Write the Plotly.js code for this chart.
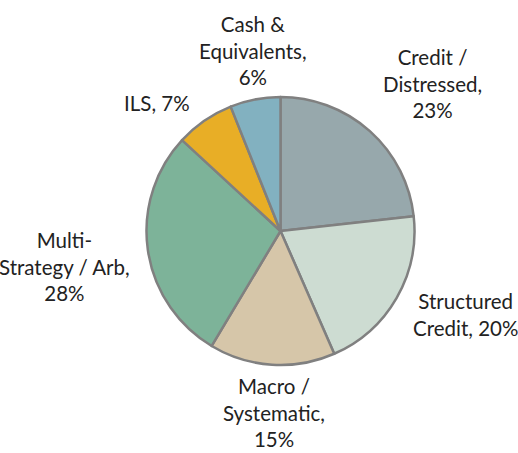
<!DOCTYPE html>
<html>
<head>
<meta charset="utf-8">
<script src="https://cdn.plot.ly/plotly-3.0.1.min.js"></script>
<style>html,body{margin:0;padding:0;background:#fff;}#chart{width:518px;height:453px;}</style>
</head>
<body>
<div id="chart"></div>
<script>
var categories = ["Credit / Distressed", "Structured Credit", "Macro / Systematic", "Multi-Strategy / Arb", "ILS", "Cash & Equivalents"];
var values = [23, 20, 15, 28, 7, 6];
var labelTexts = ["Credit /<br>Distressed,<br>23%", "Structured<br>Credit, 20%", "Macro /<br>Systematic,<br>15%", "Multi-<br>Strategy / Arb,<br>28%", "ILS, 7%", "Cash &<br>Equivalents,<br>6%"];
var colors = ["#97a8ac", "#cddcd2", "#d6c6a9", "#7db399", "#e8ae26", "#82b1c0"];

var W = 518, H = 453;
// label centres in pixels (layout only)
var labelPos = [[432, 83], [465, 314], [274, 412], [64, 266], [157, 103], [253, 50]];

var annotations = labelTexts.map(function (t, i) {
  return {
    text: t, xref: 'paper', yref: 'paper',
    x: labelPos[i][0] / W, y: 1 - labelPos[i][1] / H,
    xanchor: 'center', yanchor: 'middle', align: 'center', showarrow: false,
    font: {family: 'Lato, sans-serif', size: 20.5, color: '#222'}
  };
});

var cx = 280.5, cy = 231, r = 134;
var trace = {
  type: 'pie', labels: categories, values: values, sort: false, direction: 'clockwise', rotation: 0,
  textinfo: 'none', hoverinfo: 'label+percent',
  marker: {colors: colors, line: {color: '#808080', width: 2.5}},
  domain: {x: [(cx - r) / W, (cx + r) / W], y: [1 - (cy + r) / H, 1 - (cy - r) / H]}
};

Plotly.newPlot('chart', [trace], {
  width: W, height: H, margin: {l: 0, r: 0, t: 0, b: 0},
  showlegend: false, paper_bgcolor: '#fff', annotations: annotations
}, {displayModeBar: false, staticPlot: true});
</script>
</body>
</html>
